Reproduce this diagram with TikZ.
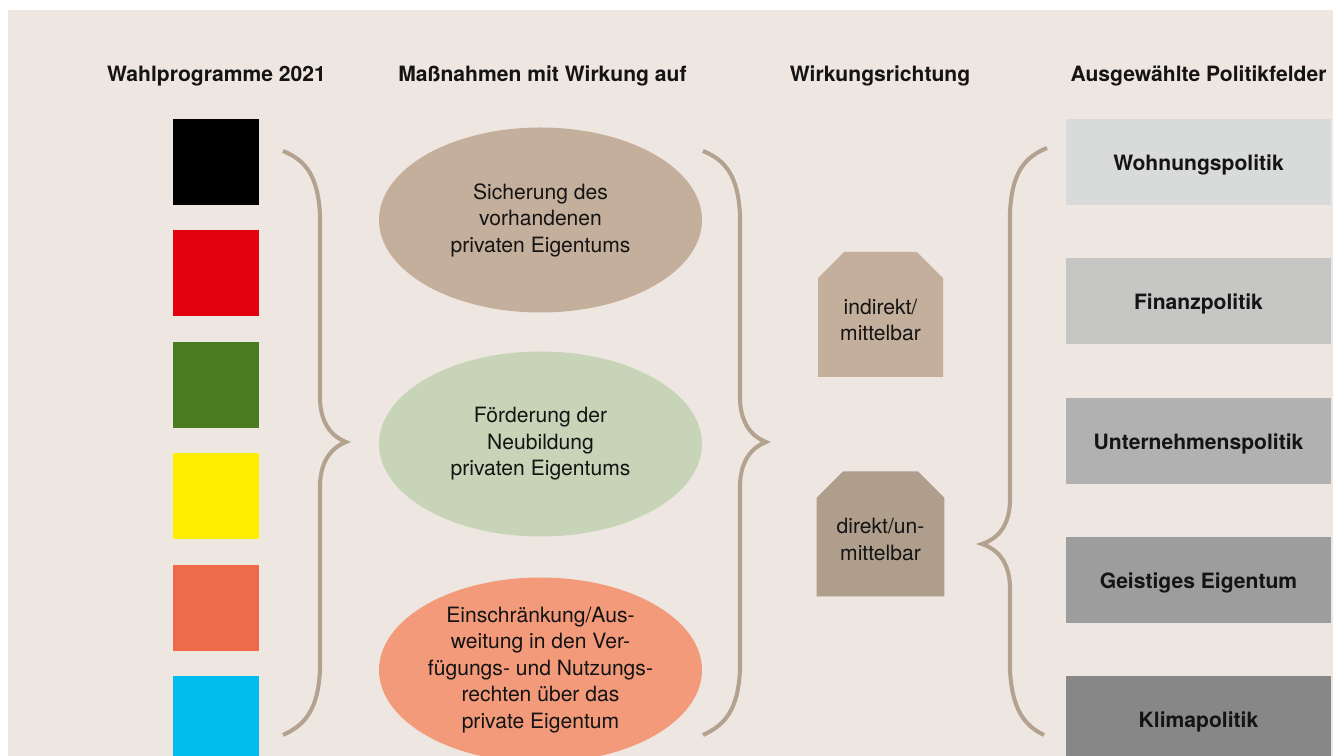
\documentclass[tikz,border=0pt]{standalone}
\usepackage{fontspec}
\setmainfont{TeX Gyre Heros}
\usetikzlibrary{shapes.geometric,shapes.misc}

\definecolor{bgbeige}{HTML}{EEE6E0}
\definecolor{bracecol}{HTML}{B3A28F}
\definecolor{textcol}{HTML}{141414}
% party colours
\definecolor{partyred}{HTML}{E3000F}
\definecolor{partygreen}{HTML}{4A7B20}
\definecolor{partyyellow}{HTML}{FFED00}
\definecolor{partyorange}{HTML}{EE6A4B}
\definecolor{partycyan}{HTML}{00BDEE}
% measures
\definecolor{measurebrown}{HTML}{C4AE9C}
\definecolor{measuregreen}{HTML}{C7D4B7}
\definecolor{measuresalmon}{HTML}{F39A7B}
\definecolor{dirdark}{HTML}{AF9E8C}

\tikzset{
  heading/.style={font=\bfseries\fontsize{12}{14}\selectfont, text=textcol},
  party/.style={minimum size=1.72cm, inner sep=0pt},
  measure/.style={ellipse, minimum width=6.46cm, minimum height=3.7cm, inner sep=0pt,
    align=center, text=textcol, font=\fontsize{12}{15.1}\selectfont},
  dirbox/.style={chamfered rectangle, chamfered rectangle corners={north west,north east},
    chamfered rectangle xsep=0.4cm, minimum width=2.5cm, minimum height=2.5cm, inner sep=0pt,
    align=center, text height=1.06cm, text=textcol, font=\fontsize{12}{15.1}\selectfont},
  fieldbox/.style={minimum width=5.3cm, minimum height=1.72cm, inner sep=0pt,
    text height=0.42cm, text=textcol, font=\bfseries\fontsize{12}{14}\selectfont},
  brace/.style={draw=bracecol, line width=2.3pt}
}

\begin{document}
\begin{tikzpicture}

  \useasboundingbox (0,0) rectangle (26.66,15.12);
  \fill[bgbeige] (0.16,0) rectangle (26.66,14.92);

  % column headings
  \node[heading] (hprog) at (4.33,13.6) {Wahlprogramme 2021};
  \node[heading] (hmeas) at (10.85,13.6) {Maßnahmen mit Wirkung auf};
  \node[heading] (hdir) at (17.6,13.6) {Wirkungsrichtung};
  \node[heading] (hfield) at (23.97,13.6) {Ausgewählte Politikfelder};

  % party squares
  \foreach \col [count=\i from 0] in {black,partyred,partygreen,partyyellow,partyorange,partycyan}
    \node[party, fill=\col] (party\i) at (4.32,11.88-2.23*\i) {};

  % first brace
  \draw[brace] (5.66,12.1) .. controls (6.1,11.92) and (6.36,11.62) .. (6.4,10.82)
    -- (6.4,7.12) .. controls (6.42,6.62) and (6.66,6.38) .. (6.92,6.28)
    .. controls (6.66,6.18) and (6.42,5.94) .. (6.4,5.44)
    -- (6.4,1.72) .. controls (6.36,0.92) and (6.1,0.62) .. (5.66,0.42);

  % measures
  \node[measure, fill=measurebrown] (secure) at (10.81,10.72) {Sicherung des\\vorhandenen\\privaten Eigentums};
  \node[measure, fill=measuregreen] (promote) at (10.81,6.24) {Förderung der\\Neubildung\\privaten Eigentums};
  \node[measure, fill=measuresalmon] (restrict) at (10.81,1.72)
    {Einschränkung/Aus-\\weitung in den Ver-\\fügungs- und Nutzungs-\\rechten über das\\private Eigentum};

  % second brace
  \draw[brace] (14.06,12.1) .. controls (14.5,11.92) and (14.76,11.62) .. (14.8,10.82)
    -- (14.8,7.12) .. controls (14.82,6.62) and (15.06,6.38) .. (15.32,6.28)
    .. controls (15.06,6.18) and (14.82,5.94) .. (14.8,5.44)
    -- (14.8,1.72) .. controls (14.76,0.92) and (14.5,0.62) .. (14.06,0.42);

  % direction of effect
  \node[dirbox, fill=measurebrown] (indirect) at (17.61,8.83) {indirekt/\\mittelbar};
  \node[dirbox, fill=dirdark] (direct) at (17.61,4.44) {direkt/un-\\mittelbar};

  % third brace
  \draw[brace] (20.94,12.16) .. controls (20.5,11.98) and (20.24,11.68) .. (20.2,10.88)
    -- (20.2,5.08) .. controls (20.18,4.58) and (19.94,4.34) .. (19.64,4.24)
    .. controls (19.94,4.14) and (20.18,3.9) .. (20.2,3.4)
    -- (20.2,1.72) .. controls (20.24,0.92) and (20.5,0.6) .. (20.88,0.42);

  % policy fields
  \node[fieldbox, fill={rgb,255:red,217;green,218;blue,218}] (housing) at (23.97,11.88) {Wohnungspolitik};
  \node[fieldbox, fill={rgb,255:red,198;green,198;blue,197}] (finance) at (23.97,9.1) {Finanzpolitik};
  \node[fieldbox, fill={rgb,255:red,177;green,177;blue,177}] (business) at (23.97,6.3) {Unternehmenspolitik};
  \node[fieldbox, fill={rgb,255:red,157;green,157;blue,157}] (intellect) at (23.97,3.52) {Geistiges Eigentum};
  \node[fieldbox, fill={rgb,255:red,135;green,135;blue,135}] (climate) at (23.97,0.74) {Klimapolitik};

\end{tikzpicture}
\end{document}
